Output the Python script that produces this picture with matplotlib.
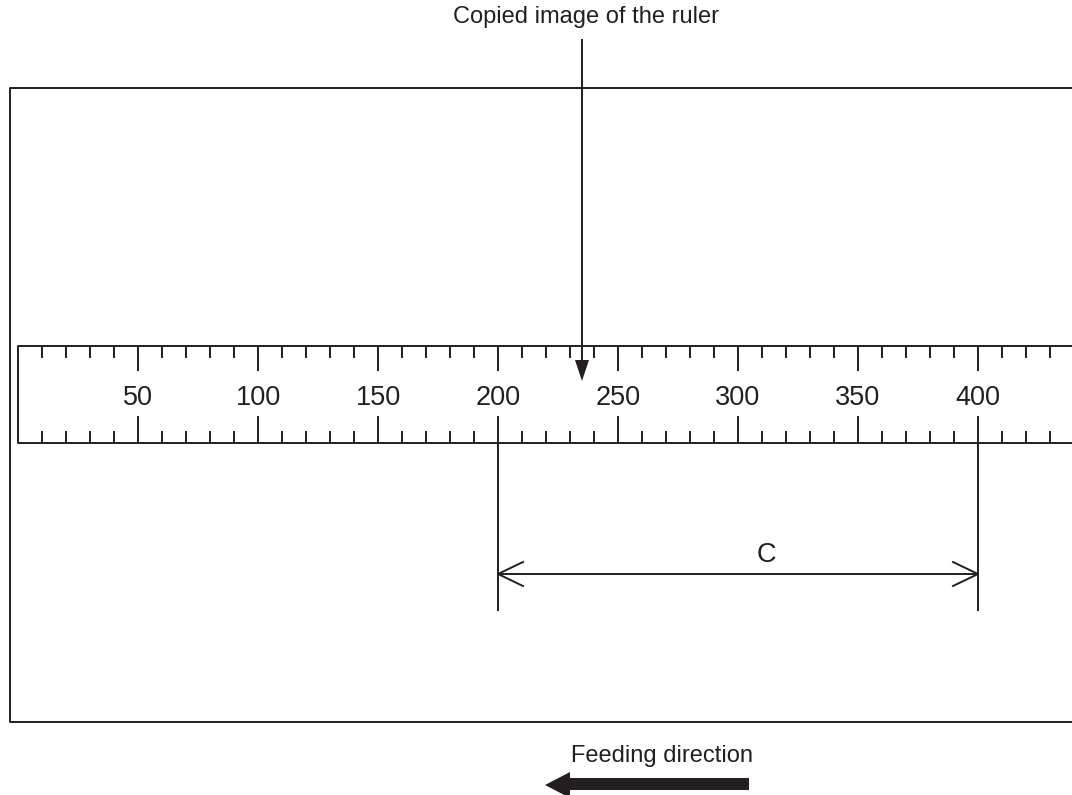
import matplotlib
matplotlib.use('Agg')
from matplotlib import pyplot as plt
from matplotlib.patches import Polygon
import numpy as np

plt.rcParams['font.family'] = ['Liberation Sans', 'DejaVu Sans']

# 数据
minor_ticks = list(range(10, 440, 10))       # 刻度（每10一格）
major_labels = [50, 100, 150, 200, 250, 300, 350, 400]
pointer_value = 235                            # 拷贝图像箭头所指位置
dim_start, dim_end = 200, 400                  # 尺寸C的两端
dim_label = 'C'
top_text = 'Copied image of the ruler'
feed_text = 'Feeding direction'

ink = '#231f20'
lw = 1.4

fig = plt.figure(figsize=(10.72, 7.95), dpi=100)
ax = fig.add_axes([0, 0, 1, 1])
ax.set_xlim(0, 1072)
ax.set_ylim(795, 0)
ax.axis('off')

# 尺子坐标 -> 像素
x0, scale = 18, 2.4
def rx(v):
    return x0 + scale * np.asarray(v)

# 外框
ax.plot([1072, 10, 10, 1072], [88, 88, 722, 722], color=ink, lw=lw)

# 尺子
top, bot = 346, 443
ax.plot([1072, x0, x0, 1072], [top, top, bot, bot], color=ink, lw=lw)
for v in minor_ticks:
    major = v % 50 == 0
    ax.plot([rx(v), rx(v)], [top, top + (24 if major else 11)], color=ink, lw=lw)
    ax.plot([rx(v), rx(v)], [bot, bot - (26 if major else 11)], color=ink, lw=lw)
for v in major_labels:
    ax.text(rx(v), 398, str(v), ha='center', va='center', fontsize=19.5, color=ink)

# 尺寸线 C
for v in (dim_start, dim_end):
    ax.plot([rx(v), rx(v)], [bot, 610], color=ink, lw=lw)
ya = 574
ax.plot([rx(dim_start), rx(dim_end)], [ya, ya], color=ink, lw=lw)
xs, xe = rx(dim_start), rx(dim_end)
ax.plot([xs + 25, xs, xs + 25], [ya - 12, ya, ya + 12], color=ink, lw=lw)
ax.plot([xe - 25, xe, xe - 25], [ya - 12, ya, ya + 12], color=ink, lw=lw)
ax.text(766, 555, dim_label, ha='center', va='center', fontsize=19.5, color=ink)

# 指示箭头
px = rx(pointer_value)
ax.plot([px, px], [40, 362], color=ink, lw=lw)
ax.add_patch(Polygon([[px - 7, 360], [px + 7, 360], [px, 381]], closed=True, color=ink, lw=0))
ax.text(586, 17, top_text, ha='center', va='center', fontsize=17, color=ink)

# 进给方向
ax.text(662, 756, feed_text, ha='center', va='center', fontsize=17, color=ink)
ax.add_patch(Polygon([[749, 778], [570, 778], [570, 772], [545, 785],
                      [570, 798], [570, 790], [749, 790]], closed=True, color=ink, lw=0))

fig.savefig('out.png', dpi=100)
